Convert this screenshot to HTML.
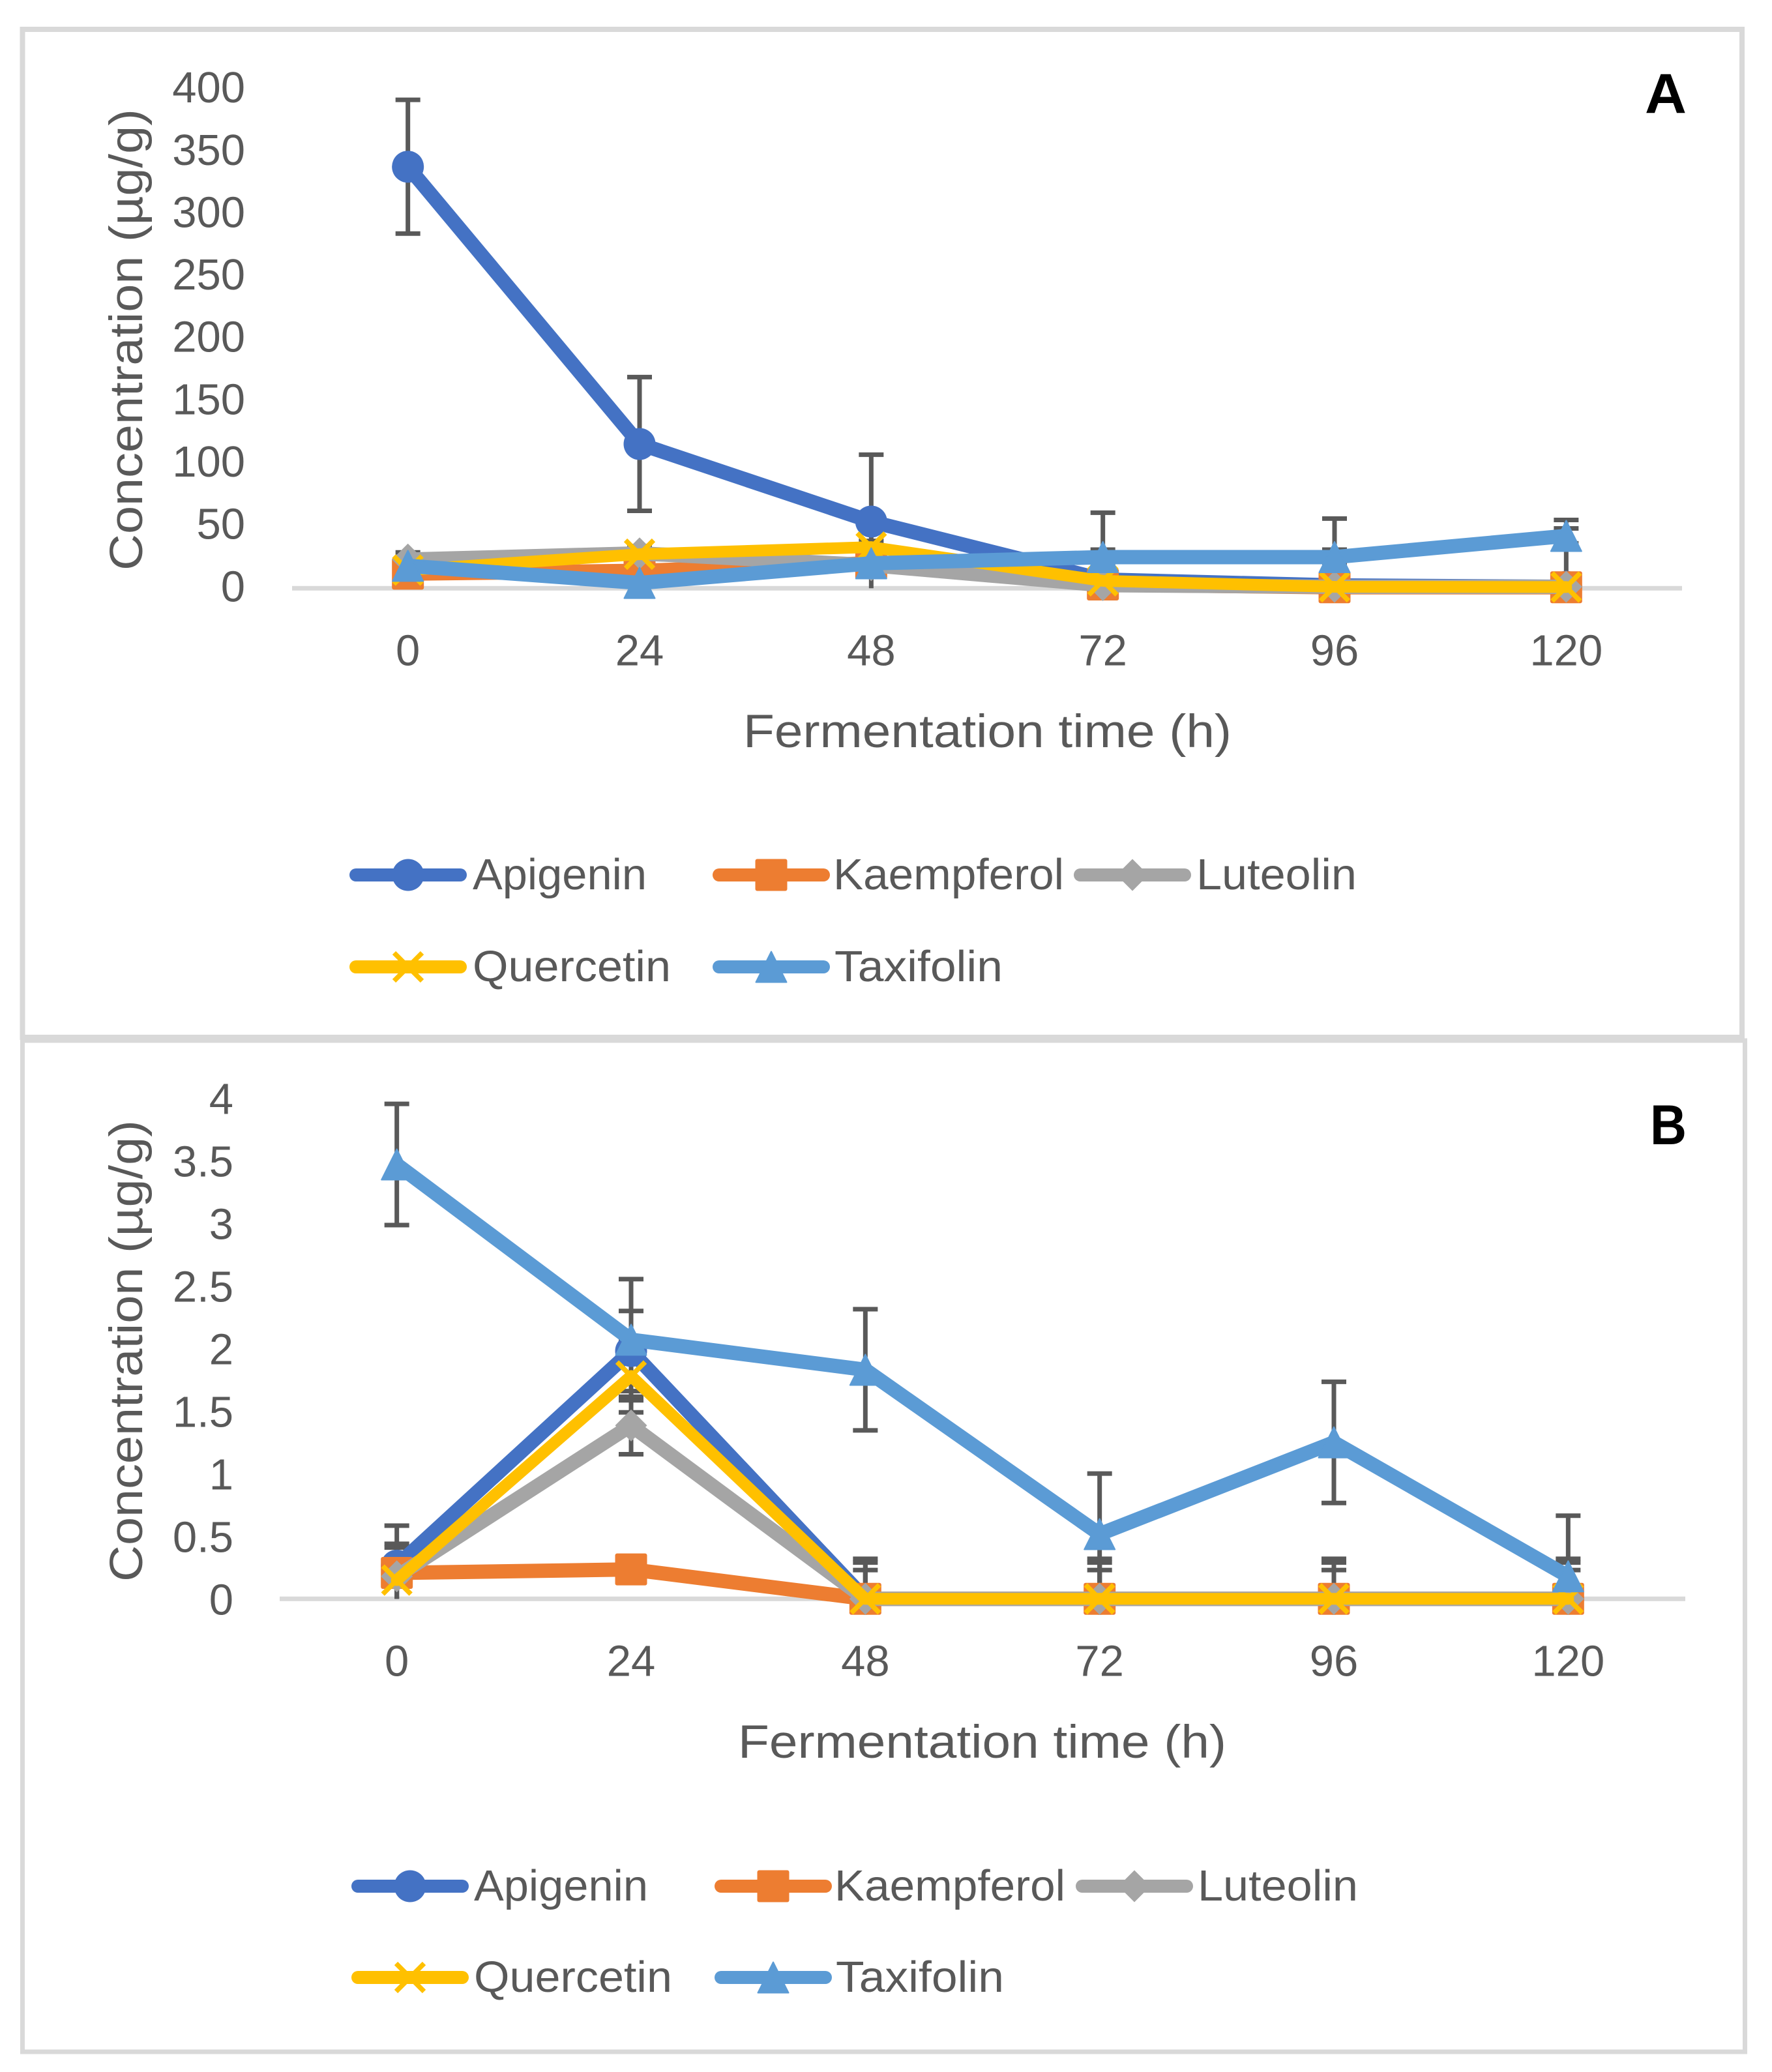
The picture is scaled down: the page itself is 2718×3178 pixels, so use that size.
<!DOCTYPE html>
<html lang="en">
<head>
<meta charset="utf-8">
<title>Flavonoid concentration during fermentation</title>
<style>
html,body{margin:0;padding:0;background:#fff;}
svg{display:block;}
text{font-family:"Liberation Sans",sans-serif;fill:#595959;}
.tick{font-size:67px;}
.axis-title{font-size:71px;}
.legend-text{font-size:67px;}
.panel-letter{font-size:86px;font-weight:bold;fill:#000;}
</style>
</head>
<body>
<svg id="figure" xmlns="http://www.w3.org/2000/svg" width="2718" height="3178" viewBox="0 0 2718 3178">
  <rect x="0" y="0" width="2718" height="3178" fill="#ffffff"/>
  <rect x="34.5" y="45" width="2637.5" height="1546" fill="none" stroke="#d9d9d9" stroke-width="8"/>
  <rect x="34.5" y="1596" width="2642" height="1551" fill="none" stroke="#d9d9d9" stroke-width="7"/>

  <text class="panel-letter" x="2523" y="173" textLength="64" lengthAdjust="spacingAndGlyphs">A</text>
  <text class="panel-letter" x="2531" y="1755" textLength="56" lengthAdjust="spacingAndGlyphs">B</text>

  <text class="axis-title" transform="translate(218 875) rotate(-90)" x="0" y="0" textLength="708" lengthAdjust="spacingAndGlyphs">Concentration (µg/g)</text>
  <text class="axis-title" transform="translate(218 2426) rotate(-90)" x="0" y="0" textLength="708" lengthAdjust="spacingAndGlyphs">Concentration (µg/g)</text>
  <text class="axis-title" x="1140" y="1146" textLength="749" lengthAdjust="spacingAndGlyphs">Fermentation time (h)</text>
  <text class="axis-title" x="1132" y="2696" textLength="749" lengthAdjust="spacingAndGlyphs">Fermentation time (h)</text>

  <text class="legend-text" x="725" y="1364" textLength="267" lengthAdjust="spacingAndGlyphs">Apigenin</text>
  <text class="legend-text" x="1278" y="1364" textLength="354" lengthAdjust="spacingAndGlyphs">Kaempferol</text>
  <text class="legend-text" x="1835" y="1364" textLength="246" lengthAdjust="spacingAndGlyphs">Luteolin</text>
  <text class="legend-text" x="725" y="1505" textLength="304" lengthAdjust="spacingAndGlyphs">Quercetin</text>
  <text class="legend-text" x="1280" y="1505" textLength="258" lengthAdjust="spacingAndGlyphs">Taxifolin</text>

  <text class="legend-text" x="727" y="2915" textLength="267" lengthAdjust="spacingAndGlyphs">Apigenin</text>
  <text class="legend-text" x="1280" y="2915" textLength="354" lengthAdjust="spacingAndGlyphs">Kaempferol</text>
  <text class="legend-text" x="1837" y="2915" textLength="246" lengthAdjust="spacingAndGlyphs">Luteolin</text>
  <text class="legend-text" x="727" y="3055" textLength="304" lengthAdjust="spacingAndGlyphs">Quercetin</text>
  <text class="legend-text" x="1282" y="3055" textLength="258" lengthAdjust="spacingAndGlyphs">Taxifolin</text>
</svg>

<script>
const categories = ['0', '24', '48', '72', '96', '120'];
const seriesNames = ['apigenin', 'kaempferol', 'luteolin', 'quercetin', 'taxifolin'];

const yTicksA = [0, 50, 100, 150, 200, 250, 300, 350, 400];
const aApigenin = [338, 115.7, 53.5, 7, 2.3, 1.2];
const aKaempferol = [11.7, 14, 20, 3, 0.8, 0.8];
const aLuteolin = [23, 28, 18.5, 2.5, 1.2, 1.2];
const aQuercetin = [14.6, 27.3, 33, 6, 1.2, 1];
const aTaxifolin = [18, 4.3, 20, 25, 25, 42];
const aErrors = [53.6, 4, 5.8, 5, 6];

const yTicksB = [0, 0.5, 1, 1.5, 2, 2.5, 3, 3.5, 4];
const bApigenin = [0.265, 1.98, 0, 0, 0, 0];
const bKaempferol = [0.207, 0.235, 0, 0, 0, 0];
const bLuteolin = [0.18, 1.385, 0, 0, 0, 0];
const bQuercetin = [0.15, 1.78, 0, 0, 0, 0];
const bTaxifolin = [3.47, 2.07, 1.83, 0.517, 1.25, 0.18];
const bErrors = [0.32, 0.03, 0.23, 0.29, 0.484];

const SVG_NS = 'http://www.w3.org/2000/svg';
const figure = document.getElementById('figure');
const COLORS = { apigenin: '#4472c4', kaempferol: '#ed7d31', luteolin: '#a5a5a5', quercetin: '#ffc000', taxifolin: '#5b9bd5' };
const ERROR_COLOR = '#595959';
const AXIS_COLOR = '#d9d9d9';
const MARKER_HALF = 24.5;

function make(tag, parent) {
  const el = document.createElementNS(SVG_NS, tag);
  parent.appendChild(el);
  return el;
}

function drawMarker(parent, series, cx, cy) {
  const h = MARKER_HALF;
  const color = COLORS[series];
  let el;
  if (series === 'apigenin') {
    el = make('circle', parent);
    el.setAttribute('cx', cx);
    el.setAttribute('cy', cy);
    el.setAttribute('r', h);
    el.setAttribute('fill', color);
  } else if (series === 'kaempferol') {
    el = make('rect', parent);
    el.setAttribute('x', cx - h);
    el.setAttribute('y', cy - h);
    el.setAttribute('width', 2 * h);
    el.setAttribute('height', 2 * h);
    el.setAttribute('rx', 3);
    el.setAttribute('fill', color);
  } else if (series === 'luteolin') {
    el = make('path', parent);
    el.setAttribute('d', 'M' + cx + ' ' + (cy - h) + 'L' + (cx + h) + ' ' + cy + 'L' + cx + ' ' + (cy + h) + 'L' + (cx - h) + ' ' + cy + 'Z');
    el.setAttribute('fill', color);
  } else if (series === 'quercetin') {
    el = make('path', parent);
    const q = h - 3;
    el.setAttribute('d', 'M' + (cx - q) + ' ' + (cy - q) + 'L' + (cx + q) + ' ' + (cy + q) + 'M' + (cx + q) + ' ' + (cy - q) + 'L' + (cx - q) + ' ' + (cy + q));
    el.setAttribute('fill', 'none');
    el.setAttribute('stroke', color);
    el.setAttribute('stroke-width', 7.5);
  } else {
    el = make('path', parent);
    const k = h - 1;
    el.setAttribute('d', 'M' + cx + ' ' + (cy - k) + 'L' + (cx + k) + ' ' + (cy + k) + 'L' + (cx - k) + ' ' + (cy + k) + 'Z');
    el.setAttribute('fill', color);
    el.setAttribute('stroke', color);
    el.setAttribute('stroke-width', 2);
    el.setAttribute('stroke-linejoin', 'round');
  }
  
  
}

function drawPanel(prefix, zeroY, unitPx, axisLeft, axisRight, labelRight, yTicks, seriesValues, errors, legendXs, legendRows) {
  const step = (axisRight - axisLeft) / categories.length;
  const xScale = function (i) { return axisLeft + step * (i + 0.5); };
  const yScale = function (v) { return zeroY - v * unitPx; };

  const panel = make('g', figure);
  
  

  const axis = make('line', panel);
  
  
  axis.setAttribute('x1', axisLeft);
  axis.setAttribute('x2', axisRight);
  axis.setAttribute('y1', zeroY);
  axis.setAttribute('y2', zeroY);
  axis.setAttribute('stroke', AXIS_COLOR);
  axis.setAttribute('stroke-width', 7);

  yTicks.forEach(function (v) {
    const t = make('text', panel);
    
    
    t.setAttribute('class', 'tick');
    t.setAttribute('x', labelRight);
    t.setAttribute('y', yScale(v) + 24 - (prefix === 'panel-a' ? 4 : 0));
    t.setAttribute('text-anchor', 'end');
    t.textContent = String(v);
  });

  categories.forEach(function (label, i) {
    const t = make('text', panel);
    
    
    t.setAttribute('class', 'tick');
    t.setAttribute('x', xScale(i));
    t.setAttribute('y', zeroY + 118);
    t.setAttribute('text-anchor', 'middle');
    t.textContent = label;
  });

  seriesValues.forEach(function (values, s) {
    const e = errors[s];
    values.forEach(function (v, i) {
      const x = xScale(i);
      const top = yScale(v + e);
      const low = v - e;
      const bottom = low > 0 ? yScale(low) : zeroY;
      const bar = make('path', panel);
      
      
      let d = 'M' + x + ' ' + top + 'L' + x + ' ' + bottom + 'M' + (x - 19) + ' ' + top + 'L' + (x + 19) + ' ' + top;
      if (low > 0) {
        d += 'M' + (x - 19) + ' ' + bottom + 'L' + (x + 19) + ' ' + bottom;
      }
      bar.setAttribute('d', d);
      bar.setAttribute('fill', 'none');
      bar.setAttribute('stroke', ERROR_COLOR);
      bar.setAttribute('stroke-width', 7);
    });
  });

  seriesValues.forEach(function (values, s) {
    const name = seriesNames[s];
    const group = make('g', panel);
    
    
    const line = make('polyline', group);
    
    
    line.setAttribute('points', values.map(function (v, i) { return xScale(i) + ',' + yScale(v); }).join(' '));
    line.setAttribute('fill', 'none');
    line.setAttribute('stroke', COLORS[name]);
    line.setAttribute('stroke-width', name === 'quercetin' ? 18 : 22);
    line.setAttribute('stroke-linejoin', 'round');
    line.setAttribute('stroke-linecap', 'round');
    values.forEach(function (v, i) {
      drawMarker(group, name, xScale(i), yScale(v));
    });
  });

  seriesNames.forEach(function (name, s) {
    const row = s < 3 ? 0 : 1;
    const col = s < 3 ? s : s - 3;
    const cx = legendXs[col];
    const cy = legendRows[row];
    const key = make('g', panel);
    
    
    const seg = make('line', key);
    
    
    seg.setAttribute('x1', cx - 80);
    seg.setAttribute('x2', cx + 80);
    seg.setAttribute('y1', cy);
    seg.setAttribute('y2', cy);
    seg.setAttribute('stroke', COLORS[name]);
    seg.setAttribute('stroke-width', 20);
    seg.setAttribute('stroke-linecap', 'round');
    drawMarker(key, name, cx, cy);
  });
}

drawPanel('panel-a', 902.3, 1.913, 448, 2580, 376, yTicksA,
  [aApigenin, aKaempferol, aLuteolin, aQuercetin, aTaxifolin], aErrors,
  [626, 1183, 1737], [1342, 1483]);

drawPanel('panel-b', 2452.3, 192, 429, 2585, 358, yTicksB,
  [bApigenin, bKaempferol, bLuteolin, bQuercetin, bTaxifolin], bErrors,
  [629, 1186, 1740], [2893, 3033]);
</script>
</body>
</html>
